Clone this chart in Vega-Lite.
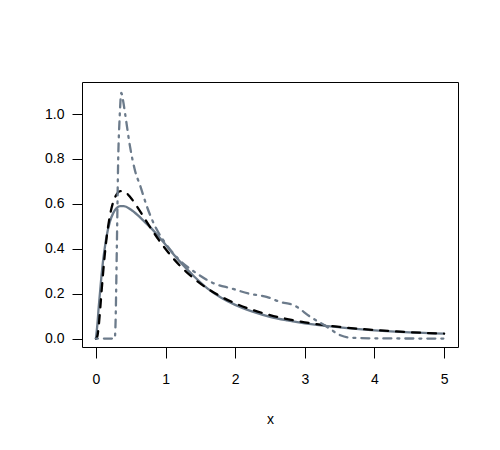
{
  "$schema": "https://vega.github.io/schema/vega-lite/v6.json",
  "width": 376,
  "height": 265,
  "autosize": {"type": "none"},
  "padding": {"left": 82, "top": 82, "right": 42, "bottom": 103},
  "background": "white",
  "config": {
    "view": {"stroke": "#000000", "strokeWidth": 1},
    "font": "Liberation Sans",
    "axis": {
      "domain": false,
      "grid": false,
      "tickColor": "#000000",
      "tickWidth": 1,
      "labelColor": "#000000",
      "labelFont": "Liberation Sans",
      "labelFontSize": 14,
      "titleFont": "Liberation Sans",
      "titleFontSize": 14,
      "titleFontWeight": "normal",
      "titleColor": "#000000"
    }
  },
  "datasets": {
    "curves": [
      {"x": 0, "y": 0, "s": "solid"},
      {"x": 0.02, "y": 0.06, "s": "solid"},
      {"x": 0.04, "y": 0.14, "s": "solid"},
      {"x": 0.06, "y": 0.21, "s": "solid"},
      {"x": 0.08, "y": 0.28, "s": "solid"},
      {"x": 0.1, "y": 0.34, "s": "solid"},
      {"x": 0.125, "y": 0.40, "s": "solid"},
      {"x": 0.15, "y": 0.45, "s": "solid"},
      {"x": 0.2, "y": 0.52, "s": "solid"},
      {"x": 0.25, "y": 0.56, "s": "solid"},
      {"x": 0.3, "y": 0.582, "s": "solid"},
      {"x": 0.35, "y": 0.59, "s": "solid"},
      {"x": 0.4, "y": 0.59, "s": "solid"},
      {"x": 0.5, "y": 0.575, "s": "solid"},
      {"x": 0.6, "y": 0.55, "s": "solid"},
      {"x": 0.7, "y": 0.52, "s": "solid"},
      {"x": 0.8, "y": 0.49, "s": "solid"},
      {"x": 0.9, "y": 0.455, "s": "solid"},
      {"x": 1.0, "y": 0.418, "s": "solid"},
      {"x": 1.2, "y": 0.345, "s": "solid"},
      {"x": 1.4, "y": 0.28, "s": "solid"},
      {"x": 1.6, "y": 0.224, "s": "solid"},
      {"x": 1.8, "y": 0.182, "s": "solid"},
      {"x": 2.0, "y": 0.15, "s": "solid"},
      {"x": 2.25, "y": 0.12, "s": "solid"},
      {"x": 2.5, "y": 0.097, "s": "solid"},
      {"x": 2.75, "y": 0.081, "s": "solid"},
      {"x": 3.0, "y": 0.068, "s": "solid"},
      {"x": 3.5, "y": 0.05, "s": "solid"},
      {"x": 4.0, "y": 0.037, "s": "solid"},
      {"x": 4.5, "y": 0.028, "s": "solid"},
      {"x": 5.0, "y": 0.022, "s": "solid"},

      {"x": 0, "y": 0, "s": "dashed"},
      {"x": 0.02, "y": 0.0095, "s": "dashed"},
      {"x": 0.04, "y": 0.056, "s": "dashed"},
      {"x": 0.06, "y": 0.127, "s": "dashed"},
      {"x": 0.08, "y": 0.205, "s": "dashed"},
      {"x": 0.1, "y": 0.2815, "s": "dashed"},
      {"x": 0.125, "y": 0.367, "s": "dashed"},
      {"x": 0.15, "y": 0.44, "s": "dashed"},
      {"x": 0.2, "y": 0.546, "s": "dashed"},
      {"x": 0.25, "y": 0.61, "s": "dashed"},
      {"x": 0.3, "y": 0.644, "s": "dashed"},
      {"x": 0.35, "y": 0.657, "s": "dashed"},
      {"x": 0.4, "y": 0.6555, "s": "dashed"},
      {"x": 0.5, "y": 0.6276, "s": "dashed"},
      {"x": 0.6, "y": 0.5836, "s": "dashed"},
      {"x": 0.7, "y": 0.5348, "s": "dashed"},
      {"x": 0.8, "y": 0.4864, "s": "dashed"},
      {"x": 0.9, "y": 0.4408, "s": "dashed"},
      {"x": 1.0, "y": 0.3989, "s": "dashed"},
      {"x": 1.2, "y": 0.327, "s": "dashed"},
      {"x": 1.4, "y": 0.2693, "s": "dashed"},
      {"x": 1.6, "y": 0.2233, "s": "dashed"},
      {"x": 1.8, "y": 0.1865, "s": "dashed"},
      {"x": 2.0, "y": 0.1569, "s": "dashed"},
      {"x": 2.25, "y": 0.1276, "s": "dashed"},
      {"x": 2.5, "y": 0.1049, "s": "dashed"},
      {"x": 2.75, "y": 0.087, "s": "dashed"},
      {"x": 3.0, "y": 0.0727, "s": "dashed"},
      {"x": 3.5, "y": 0.052, "s": "dashed"},
      {"x": 4.0, "y": 0.0381, "s": "dashed"},
      {"x": 4.5, "y": 0.0286, "s": "dashed"},
      {"x": 5.0, "y": 0.0219, "s": "dashed"},

      {"x": 0, "y": 0, "s": "dotdash"},
      {"x": 0.27, "y": 0, "s": "dotdash"},
      {"x": 0.28, "y": 0.05, "s": "dotdash"},
      {"x": 0.3, "y": 0.4, "s": "dotdash"},
      {"x": 0.32, "y": 0.8, "s": "dotdash"},
      {"x": 0.34, "y": 0.98, "s": "dotdash"},
      {"x": 0.365, "y": 1.094, "s": "dotdash"},
      {"x": 0.39, "y": 1.06, "s": "dotdash"},
      {"x": 0.42, "y": 1.0, "s": "dotdash"},
      {"x": 0.49, "y": 0.855, "s": "dotdash"},
      {"x": 0.56, "y": 0.75, "s": "dotdash"},
      {"x": 0.64, "y": 0.677, "s": "dotdash"},
      {"x": 0.73, "y": 0.59, "s": "dotdash"},
      {"x": 0.85, "y": 0.5, "s": "dotdash"},
      {"x": 1.0, "y": 0.424, "s": "dotdash"},
      {"x": 1.2, "y": 0.35, "s": "dotdash"},
      {"x": 1.45, "y": 0.29, "s": "dotdash"},
      {"x": 1.7, "y": 0.245, "s": "dotdash"},
      {"x": 1.95, "y": 0.223, "s": "dotdash"},
      {"x": 2.2, "y": 0.2, "s": "dotdash"},
      {"x": 2.45, "y": 0.186, "s": "dotdash"},
      {"x": 2.65, "y": 0.163, "s": "dotdash"},
      {"x": 2.84, "y": 0.149, "s": "dotdash"},
      {"x": 3.08, "y": 0.097, "s": "dotdash"},
      {"x": 3.32, "y": 0.052, "s": "dotdash"},
      {"x": 3.51, "y": 0.015, "s": "dotdash"},
      {"x": 3.65, "y": 0.004, "s": "dotdash"},
      {"x": 4.0, "y": 0.001, "s": "dotdash"},
      {"x": 5.0, "y": 0, "s": "dotdash"}
    ]
  },
  "data": {"name": "curves"},
  "encoding": {
    "x": {
      "field": "x",
      "type": "quantitative",
      "scale": {"domain": [-0.2, 5.2], "nice": false, "zero": false},
      "axis": {"values": [0, 1, 2, 3, 4, 5], "format": "d", "tickSize": 11, "labelPadding": 14, "title": "x", "titlePadding": 26}
    },
    "y": {
      "field": "y",
      "type": "quantitative",
      "scale": {"domain": [-0.0375, 1.143], "nice": false, "zero": false},
      "axis": {"values": [0, 0.2, 0.4, 0.6, 0.8, 1.0], "format": ".1f", "tickSize": 10, "labelPadding": 8, "title": null}
    }
  },
  "layer": [
    {
      "transform": [{"filter": "datum.s === 'solid'"}],
      "mark": {"type": "line", "interpolate": "monotone", "color": "#6C7B8B", "strokeWidth": 2.3, "strokeCap": "round", "clip": true}
    },
    {
      "transform": [{"filter": "datum.s === 'dashed'"}],
      "mark": {"type": "line", "interpolate": "monotone", "color": "#000000", "strokeWidth": 2.3, "strokeCap": "round", "strokeDash": [8, 8], "clip": true}
    },
    {
      "transform": [{"filter": "datum.s === 'dotdash'"}],
      "mark": {"type": "line", "interpolate": "monotone", "color": "#6C7B8B", "strokeWidth": 2.3, "strokeCap": "round", "strokeDash": [2, 6, 8, 6], "clip": true}
    }
  ]
}
